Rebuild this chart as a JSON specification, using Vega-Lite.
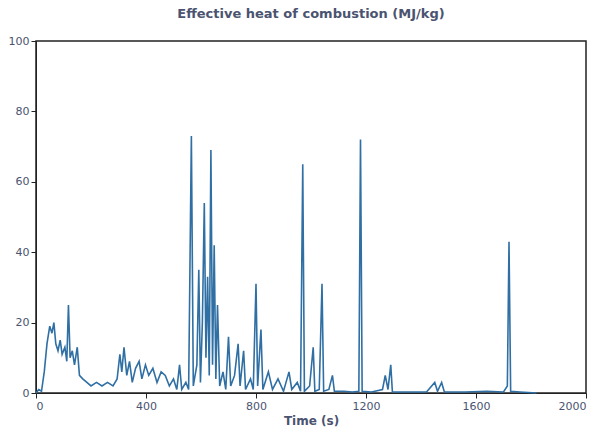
{
  "$schema": "https://vega.github.io/schema/vega-lite/v6.json",
  "width": 550,
  "height": 352,
  "background": "white",
  "padding": {"left": 8, "top": 8, "right": 10, "bottom": 5},
  "title": {"text": "Effective heat of combustion (MJ/kg)", "fontSize": 13, "color": "#4a5470", "font": "DejaVu Sans", "fontWeight": "bold", "offset": 14},
  "config": {
    "view": {"stroke": "#222", "strokeWidth": 1.5},
    "axis": {"grid": false, "labelColor": "#4a5470", "titleColor": "#4a5470", "labelFont": "DejaVu Sans", "titleFont": "DejaVu Sans", "labelFontSize": 11, "titleFontSize": 12, "domainColor": "#222", "tickColor": "#222"}
  },
  "data": {
    "values": [
      {"t": 0, "v": 0}, {"t": 10, "v": 1}, {"t": 20, "v": 0.5}, {"t": 30, "v": 6}, {"t": 40, "v": 14},
      {"t": 50, "v": 19}, {"t": 58, "v": 17}, {"t": 65, "v": 20}, {"t": 72, "v": 14}, {"t": 80, "v": 12},
      {"t": 88, "v": 15}, {"t": 95, "v": 11}, {"t": 105, "v": 13}, {"t": 112, "v": 9}, {"t": 118, "v": 25},
      {"t": 124, "v": 10}, {"t": 132, "v": 12}, {"t": 140, "v": 8}, {"t": 150, "v": 13}, {"t": 158, "v": 5},
      {"t": 170, "v": 4}, {"t": 185, "v": 3}, {"t": 200, "v": 2}, {"t": 220, "v": 3}, {"t": 240, "v": 2},
      {"t": 260, "v": 3}, {"t": 280, "v": 2}, {"t": 295, "v": 4}, {"t": 305, "v": 11}, {"t": 312, "v": 6},
      {"t": 320, "v": 13}, {"t": 330, "v": 5}, {"t": 340, "v": 9}, {"t": 350, "v": 3}, {"t": 362, "v": 7},
      {"t": 375, "v": 9}, {"t": 385, "v": 4}, {"t": 398, "v": 8}, {"t": 410, "v": 5}, {"t": 425, "v": 7},
      {"t": 440, "v": 3}, {"t": 455, "v": 6}, {"t": 470, "v": 5}, {"t": 485, "v": 2}, {"t": 500, "v": 4},
      {"t": 512, "v": 1}, {"t": 522, "v": 8}, {"t": 530, "v": 1}, {"t": 545, "v": 3}, {"t": 555, "v": 1},
      {"t": 565, "v": 73}, {"t": 572, "v": 2}, {"t": 585, "v": 8}, {"t": 592, "v": 35}, {"t": 598, "v": 3},
      {"t": 605, "v": 20}, {"t": 612, "v": 54}, {"t": 618, "v": 10}, {"t": 624, "v": 33}, {"t": 630, "v": 5},
      {"t": 636, "v": 69}, {"t": 642, "v": 8}, {"t": 648, "v": 42}, {"t": 654, "v": 4}, {"t": 660, "v": 25},
      {"t": 668, "v": 2}, {"t": 680, "v": 6}, {"t": 690, "v": 1}, {"t": 700, "v": 16}, {"t": 708, "v": 2},
      {"t": 722, "v": 5}, {"t": 735, "v": 14}, {"t": 742, "v": 2}, {"t": 755, "v": 12}, {"t": 762, "v": 1},
      {"t": 780, "v": 4}, {"t": 790, "v": 1}, {"t": 800, "v": 31}, {"t": 806, "v": 2}, {"t": 818, "v": 18},
      {"t": 825, "v": 1}, {"t": 845, "v": 6}, {"t": 860, "v": 1}, {"t": 880, "v": 4}, {"t": 900, "v": 0.5},
      {"t": 920, "v": 6}, {"t": 930, "v": 1}, {"t": 950, "v": 3}, {"t": 962, "v": 0.5}, {"t": 970, "v": 65},
      {"t": 976, "v": 0.5}, {"t": 995, "v": 2}, {"t": 1008, "v": 13}, {"t": 1014, "v": 0.5}, {"t": 1030, "v": 1},
      {"t": 1040, "v": 31}, {"t": 1046, "v": 0.5}, {"t": 1065, "v": 1}, {"t": 1078, "v": 5}, {"t": 1085, "v": 0.5},
      {"t": 1120, "v": 0.5}, {"t": 1150, "v": 0.3}, {"t": 1174, "v": 0.5}, {"t": 1180, "v": 72}, {"t": 1186, "v": 0.5},
      {"t": 1220, "v": 0.3}, {"t": 1260, "v": 1}, {"t": 1270, "v": 5}, {"t": 1280, "v": 1}, {"t": 1290, "v": 8},
      {"t": 1296, "v": 0.3}, {"t": 1350, "v": 0.3}, {"t": 1420, "v": 0.3}, {"t": 1450, "v": 3}, {"t": 1460, "v": 0.5},
      {"t": 1475, "v": 3}, {"t": 1485, "v": 0.3}, {"t": 1560, "v": 0.3}, {"t": 1640, "v": 0.5}, {"t": 1700, "v": 0.3},
      {"t": 1714, "v": 2}, {"t": 1720, "v": 43}, {"t": 1726, "v": 0.5}, {"t": 1760, "v": 0.3}, {"t": 1820, "v": 0}
    ]
  },
  "mark": {"type": "line", "color": "#2f6fa3", "strokeWidth": 1.6},
  "encoding": {
    "x": {"field": "t", "type": "quantitative", "title": "Time (s)", "scale": {"domain": [0, 2000], "nice": false}, "axis": {"values": [0, 400, 800, 1200, 1600, 2000], "format": "d", "titleFontWeight": "bold"}},
    "y": {"field": "v", "type": "quantitative", "title": null, "scale": {"domain": [0, 100]}, "axis": {"values": [0, 20, 40, 60, 80, 100]}}
  }
}
